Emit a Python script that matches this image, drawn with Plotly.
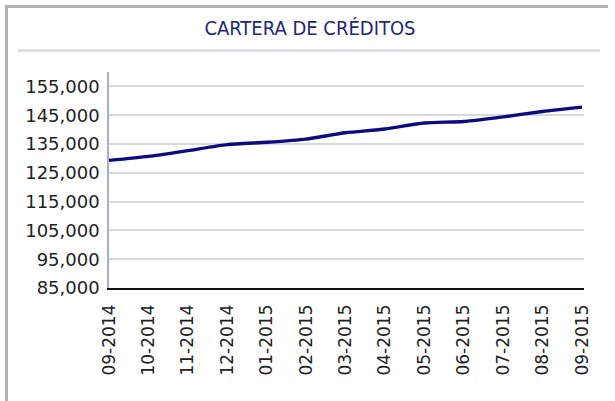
import plotly.graph_objects as go

months = ["09-2014", "10-2014", "11-2014", "12-2014", "01-2015", "02-2015", "03-2015",
          "04-2015", "05-2015", "06-2015", "07-2015", "08-2015", "09-2015"]
cartera = [129300, 130700, 132700, 134800, 135600, 136700, 138900,
           140200, 142300, 142800, 144400, 146300, 147800]
y_ticks = [85000, 95000, 105000, 115000, 125000, 135000, 145000, 155000]
title_text = "CARTERA DE CRÉDITOS"

W, H = 615, 401
L, R, T, B = 109, 31, 72, 113
PW, PH = W - L - R, H - T - B


def px_x(x):
    return (x - L) / PW


def px_y(y):
    return (H - B - y) / PH


fig = go.Figure()
fig.add_trace(go.Scatter(
    x=list(range(len(months))), y=cartera, mode="lines",
    line=dict(color="#0c0c82", width=3.4, shape="spline", smoothing=0.6),
    hoverinfo="skip", showlegend=False,
))

fig.update_layout(
    width=W, height=H,
    paper_bgcolor="white", plot_bgcolor="white",
    margin=dict(l=L, r=R, t=T, b=B, autoexpand=False),
    font=dict(family="DejaVu Sans", color="#222222"),
    title=dict(text=title_text, x=310 / W, xanchor="center", xref="container",
               y=1 - 27.5 / H, yref="container", yanchor="middle",
               font=dict(family="DejaVu Sans Condensed", size=20, color="#22267a")),
    xaxis=dict(
        range=[0, 12.05], tickmode="array", tickvals=list(range(len(months))),
        ticktext=months, tickangle=-90, showgrid=False, zeroline=False,
        showline=True, linecolor="#111111", linewidth=1.5, automargin=False,
        tickfont=dict(size=17, color="#222222"), ticks="", ticklabelstandoff=8,
    ),
    yaxis=dict(
        range=[85000, 160000], tickmode="array", tickvals=y_ticks,
        ticktext=[f"{v:,}" for v in y_ticks], showgrid=True,
        gridcolor="#d9d9d9", gridwidth=1.5, zeroline=False, automargin=False,
        showline=True, linecolor="#a9aed0", linewidth=1.5,
        tickfont=dict(size=18, color="#222222"), ticks="", ticklabelstandoff=4,
    ),
    shapes=[
        dict(type="line", xref="paper", yref="paper", x0=px_x(18), x1=px_x(600),
             y0=px_y(50.5), y1=px_y(50.5), line=dict(color="#d6d9e7", width=2.5)),
        dict(type="line", xref="paper", yref="paper", x0=px_x(5), x1=px_x(608),
             y0=px_y(6.5), y1=px_y(6.5), line=dict(color="#b3b3b3", width=3)),
        dict(type="line", xref="paper", yref="paper", x0=px_x(6.5), x1=px_x(6.5),
             y0=px_y(5), y1=px_y(401), line=dict(color="#b3b3b3", width=3)),
    ],
)

fig.write_html(
    "out.html",
    config={"displayModeBar": False},
    post_script="document.body.style.margin='0';document.body.style.overflow='hidden';",
)
